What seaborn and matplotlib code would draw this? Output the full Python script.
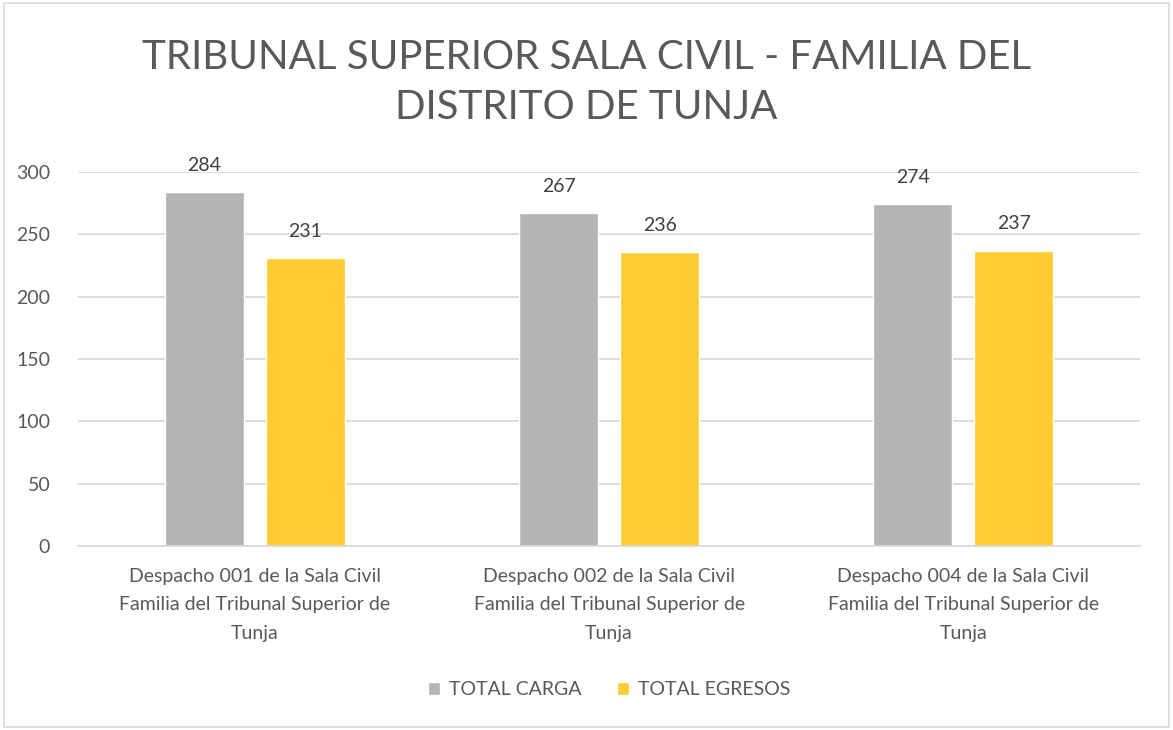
import pandas as pd
import matplotlib.pyplot as plt
import seaborn as sns
from matplotlib.patches import Rectangle

# chart data
despachos = [
    "Despacho 001 de la Sala Civil\nFamilia del Tribunal Superior de\nTunja",
    "Despacho 002 de la Sala Civil\nFamilia del Tribunal Superior de\nTunja",
    "Despacho 004 de la Sala Civil\nFamilia del Tribunal Superior de\nTunja",
]
total_carga = [284, 267, 274]
total_egresos = [231, 236, 237]
series_names = ["TOTAL CARGA", "TOTAL EGRESOS"]
y_ticks = [0, 50, 100, 150, 200, 250, 300]

df = pd.DataFrame({
    "despacho": despachos * 2,
    "serie": [series_names[0]] * 3 + [series_names[1]] * 3,
    "valor": total_carga + total_egresos,
})

sns.set_style("white")
plt.rcParams["font.family"] = ["Lato", "DejaVu Sans"]
text_color = "#595959"
grid_color = "#D9D9D9"

fig = plt.figure(figsize=(11.73, 7.30), dpi=100)
ax = fig.add_axes([0.0665, 0.252, 0.9055, 0.5124])

sns.barplot(data=df, x="despacho", y="valor", hue="serie",
            palette=["#B4B4B4", "#FFCC32"], saturation=1,
            width=0.571, gap=0.218, ax=ax, legend=True)

ax.set_ylim(0, 300)
ax.set_yticks(y_ticks)
ax.set_xlim(-0.5, 2.5)
ax.set_xlabel("")
ax.set_ylabel("")
ax.grid(axis="y", color=grid_color, linewidth=1.3)
ax.set_axisbelow(True)
for s in ["left", "right", "top"]:
    ax.spines[s].set_visible(False)
ax.spines["bottom"].set_color(grid_color)
ax.spines["bottom"].set_linewidth(1.3)
ax.tick_params(axis="both", length=0, labelsize=14, labelcolor=text_color)
ax.tick_params(axis="y", pad=20)
ax.tick_params(axis="x", pad=16)
for lbl in ax.get_xticklabels():
    lbl.set_multialignment("center")
    lbl.set_linespacing(1.8)

for cont in ax.containers:
    ax.bar_label(cont, padding=13, fontsize=14, color="#404040", clip_on=False)

ax.legend(loc="upper center", bbox_to_anchor=(0.5, -0.315), ncol=2,
          frameon=False, fontsize=14, labelcolor=text_color,
          handlelength=0.65, handleheight=0.65, handletextpad=0.45,
          columnspacing=1.8)

fig.text(0.5, 0.887, "TRIBUNAL SUPERIOR SALA CIVIL - FAMILIA DEL\nDISTRITO DE TUNJA",
         ha="center", va="center", fontsize=29, color=text_color,
         linespacing=1.45)

fig.patches.append(Rectangle((0.003, 0.004), 0.994, 0.992, transform=fig.transFigure,
                             fill=False, edgecolor=grid_color, linewidth=1.2))

fig.savefig("out.png", dpi=100)
